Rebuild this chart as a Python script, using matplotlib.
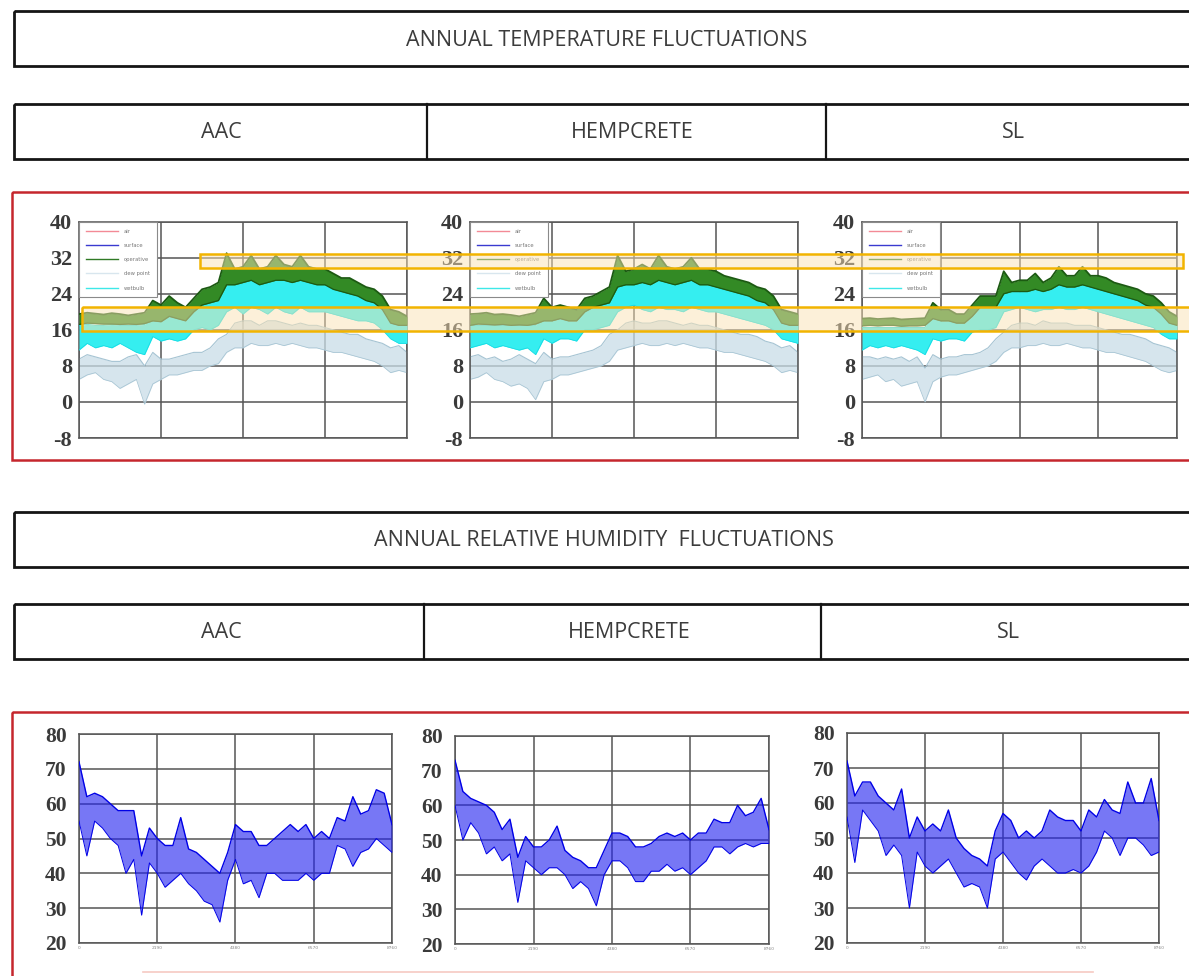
import numpy as np
import matplotlib
matplotlib.use('Agg')
import matplotlib.pyplot as plt
from matplotlib.patches import Rectangle
from matplotlib.lines import Line2D

# ---- data (41 samples over the year, hours 0..8760) ----
# temperature, deg C : operative (green), wetbulb (cyan), dew point (pale blue)
AAC_OP_HI = [19.5, 19.8, 19.6, 19.4, 19.7, 19.5, 19.2, 19.5, 19.8, 22.5, 21.5, 23.5, 22.0, 21.0, 23.0, 25.0, 25.5, 26.5, 33.0, 29.5, 30.0,
             32.5, 29.5, 30.0, 32.5, 30.5, 30.0, 32.5, 30.0, 29.5, 29.5, 28.5, 27.5, 27.5, 26.5, 25.5, 25.0, 23.5, 20.5, 20.0, 19.0]
AAC_OP_LO = [17.2, 17.5, 17.4, 17.3, 17.3, 17.2, 17.3, 17.2, 17.4, 18.0, 17.8, 19.0, 18.5, 18.0, 20.0, 21.5, 22.0, 22.5, 26.0, 26.0, 26.5,
             27.0, 26.0, 26.5, 27.0, 27.0, 26.5, 27.0, 26.5, 26.0, 26.0, 25.0, 24.5, 24.0, 23.5, 22.5, 22.0, 20.5, 17.5, 17.0, 17.0]
AAC_WB_HI = [17.0, 17.2, 17.0, 17.0, 17.2, 17.0, 17.0, 17.0, 17.2, 22.0, 18.5, 19.0, 18.5, 18.0, 21.0, 22.0, 23.0, 25.0, 32.0, 27.0, 27.0,
             31.0, 27.0, 27.0, 31.0, 27.5, 27.0, 30.0, 27.0, 26.5, 26.0, 25.0, 24.5, 24.0, 23.5, 22.5, 22.0, 21.0, 18.0, 17.5, 17.0]
AAC_WB_LO = [11.5, 13.0, 12.0, 12.5, 12.0, 13.0, 12.0, 11.0, 10.5, 14.5, 13.5, 14.0, 13.5, 14.0, 16.0, 16.5, 16.0, 17.0, 20.0, 21.0, 19.5,
             21.0, 20.5, 19.5, 21.0, 20.0, 19.5, 21.0, 20.0, 20.0, 20.0, 19.5, 19.0, 18.5, 18.0, 18.0, 17.5, 16.0, 14.0, 13.0, 13.0]
AAC_DEW_HI = [9.5, 10.5, 10.0, 9.5, 9.0, 9.0, 10.0, 10.5, 8.0, 11.0, 9.5, 9.5, 10.0, 10.5, 11.0, 11.0, 12.0, 14.0, 15.0, 17.5, 18.0,
              18.0, 17.0, 18.0, 18.0, 17.5, 17.0, 17.5, 17.0, 17.0, 16.5, 16.0, 15.5, 15.0, 15.0, 14.0, 13.5, 13.0, 12.0, 12.5, 11.0]
AAC_DEW_LO = [5.0, 6.0, 6.5, 5.0, 4.5, 3.0, 4.0, 5.0, -0.5, 4.0, 5.0, 6.0, 6.0, 6.5, 7.0, 7.0, 8.0, 8.5, 11.0, 12.0, 12.0,
              13.0, 12.5, 12.5, 13.0, 12.5, 13.0, 12.5, 12.0, 12.0, 11.5, 11.0, 11.0, 10.5, 10.0, 9.5, 9.0, 8.0, 6.5, 7.0, 6.5]

HEMP_OP_HI = [19.5, 19.6, 19.8, 19.4, 19.5, 19.3, 19.0, 19.4, 19.8, 23.0, 21.0, 21.5, 21.0, 20.5, 23.0, 23.5, 24.5, 25.5, 32.5, 29.0, 29.5,
              30.5, 29.5, 32.5, 30.0, 29.5, 30.0, 32.0, 29.5, 29.5, 29.0, 28.0, 27.5, 27.0, 26.5, 25.5, 25.0, 23.5, 20.5, 20.0, 19.5]
HEMP_OP_LO = [17.0, 17.3, 17.2, 17.1, 17.2, 17.0, 17.1, 17.0, 17.3, 18.0, 18.0, 18.5, 18.0, 18.0, 20.0, 21.0, 21.5, 22.0, 25.5, 26.0, 26.0,
              26.5, 26.0, 27.0, 26.5, 26.0, 26.5, 27.0, 26.0, 26.0, 25.5, 25.0, 24.5, 24.0, 23.5, 22.5, 22.0, 20.5, 17.5, 17.0, 17.0]
HEMP_WB_HI = [17.0, 17.0, 17.0, 17.0, 17.0, 17.0, 17.0, 17.0, 17.0, 22.0, 18.0, 18.5, 18.0, 18.0, 21.0, 22.0, 22.5, 24.0, 31.5, 27.0, 27.0,
              28.0, 27.0, 31.0, 27.5, 27.0, 27.0, 30.0, 27.0, 26.5, 26.0, 25.0, 24.5, 24.0, 23.5, 22.5, 22.0, 21.0, 18.0, 17.5, 17.0]
HEMP_WB_LO = [12.0, 12.5, 13.0, 12.0, 12.5, 12.0, 11.5, 12.0, 10.5, 14.0, 13.0, 14.0, 14.0, 13.5, 16.0, 16.0, 16.5, 17.0, 20.0, 21.0, 21.5,
              20.5, 20.0, 21.0, 20.5, 20.5, 20.0, 21.0, 20.5, 20.0, 20.0, 19.5, 19.0, 18.5, 18.0, 17.5, 17.0, 16.0, 14.0, 13.5, 13.0]
HEMP_DEW_HI = [10.0, 10.5, 9.5, 10.0, 9.0, 9.5, 10.5, 9.5, 8.5, 11.0, 9.5, 10.0, 10.0, 10.5, 11.0, 11.5, 12.5, 15.0, 16.0, 17.5, 18.0,
               17.5, 17.5, 18.0, 18.0, 17.5, 17.0, 17.5, 17.0, 17.0, 16.5, 16.0, 15.5, 15.0, 15.0, 14.5, 13.5, 13.0, 12.0, 12.5, 11.0]
HEMP_DEW_LO = [5.0, 5.5, 6.5, 5.0, 4.5, 3.5, 4.0, 3.0, 0.5, 4.5, 5.0, 6.0, 6.0, 6.5, 7.0, 7.5, 8.0, 9.0, 11.5, 12.0, 12.5,
               13.0, 12.5, 12.5, 13.0, 12.5, 13.0, 12.5, 12.0, 12.0, 11.5, 11.0, 11.0, 10.5, 10.0, 9.5, 9.0, 8.0, 6.5, 7.0, 6.5]

SL_OP_HI = [18.5, 18.6, 18.4, 18.5, 18.6, 18.3, 18.4, 18.5, 18.6, 22.0, 20.5, 20.5, 19.5, 19.5, 21.5, 23.5, 23.5, 23.5, 29.0, 26.5, 27.0,
            27.0, 28.5, 26.5, 27.5, 30.0, 28.0, 28.0, 30.0, 28.0, 28.0, 27.5, 26.5, 26.0, 25.5, 25.0, 24.0, 23.5, 22.0, 20.0, 19.0]
SL_OP_LO = [16.9, 17.0, 16.9, 17.0, 17.0, 16.8, 16.9, 16.9, 17.0, 18.5, 18.0, 18.0, 17.5, 17.5, 19.0, 21.0, 21.0, 21.0, 24.0, 24.5, 24.5,
            24.5, 25.0, 24.5, 25.0, 26.0, 25.5, 25.5, 26.0, 25.5, 25.0, 24.5, 24.0, 23.5, 23.0, 22.5, 21.5, 21.0, 19.5, 17.5, 17.0]
SL_WB_HI = [16.5, 16.5, 16.5, 16.5, 16.5, 16.5, 16.5, 16.5, 16.5, 21.0, 18.0, 18.0, 17.5, 17.5, 19.0, 21.0, 21.0, 21.0, 28.0, 24.5, 24.5,
            24.5, 27.0, 24.5, 25.0, 28.5, 25.5, 25.5, 28.5, 25.5, 25.0, 24.5, 24.0, 23.5, 23.0, 22.5, 21.5, 21.0, 19.5, 17.5, 17.0]
SL_WB_LO = [11.5, 12.5, 12.0, 12.5, 12.0, 12.5, 12.0, 11.5, 10.5, 14.0, 13.5, 14.0, 14.0, 13.5, 15.5, 16.0, 16.0, 16.5, 20.0, 20.5, 21.0,
            20.5, 20.0, 20.5, 20.5, 21.0, 20.5, 20.5, 21.0, 20.5, 20.0, 19.5, 19.0, 18.5, 18.0, 17.5, 17.0, 16.5, 15.0, 14.0, 14.0]
SL_DEW_HI = [10.0, 10.0, 9.5, 10.0, 9.5, 10.0, 9.0, 10.0, 7.5, 10.5, 9.5, 10.0, 10.0, 10.5, 10.5, 11.0, 12.0, 14.0, 15.5, 17.0, 17.5,
             17.5, 17.0, 18.0, 17.5, 17.5, 17.5, 17.0, 17.0, 17.0, 16.5, 16.0, 15.5, 15.0, 15.0, 14.5, 14.0, 13.0, 12.5, 12.0, 11.0]
SL_DEW_LO = [5.0, 5.5, 6.0, 4.5, 5.0, 3.5, 4.0, 4.5, 0.0, 4.5, 5.5, 6.0, 6.0, 6.5, 7.0, 7.5, 8.0, 9.0, 11.0, 12.0, 12.0,
             12.5, 12.5, 13.0, 12.5, 12.5, 13.0, 12.5, 12.0, 12.0, 11.5, 11.0, 11.0, 10.5, 10.0, 9.5, 9.0, 8.0, 7.0, 6.5, 7.0]

# relative humidity, %
AAC_RH_HI = [72, 62, 63, 62, 60, 58, 58, 58, 45, 53, 50, 48, 48, 56, 47, 46, 44, 42, 40, 46, 54,
             52, 52, 48, 48, 50, 52, 54, 52, 54, 50, 52, 50, 56, 55, 62, 57, 58, 64, 63, 54]
AAC_RH_LO = [55, 45, 55, 53, 50, 48, 40, 44, 28, 43, 40, 36, 38, 40, 37, 35, 32, 31, 26, 38, 44,
             37, 38, 33, 40, 40, 38, 38, 38, 40, 38, 40, 40, 48, 47, 42, 46, 47, 50, 48, 46]
HEMP_RH_HI = [73, 64, 62, 61, 60, 58, 53, 56, 45, 51, 48, 48, 50, 54, 47, 45, 44, 42, 42, 47, 52,
              52, 51, 48, 48, 49, 51, 52, 51, 52, 50, 52, 52, 56, 55, 55, 60, 57, 58, 62, 53]
HEMP_RH_LO = [60, 50, 55, 52, 46, 48, 44, 46, 32, 44, 42, 40, 42, 42, 40, 36, 38, 36, 31, 40, 44,
              44, 42, 38, 38, 41, 41, 43, 41, 42, 40, 42, 44, 48, 48, 46, 48, 49, 48, 49, 49]
SL_RH_HI = [72, 62, 66, 66, 62, 60, 58, 64, 50, 56, 52, 54, 52, 58, 50, 47, 45, 44, 42, 52, 57,
            55, 50, 52, 50, 52, 58, 56, 55, 55, 52, 58, 56, 61, 58, 57, 66, 60, 60, 67, 55]
SL_RH_LO = [56, 43, 58, 55, 52, 45, 48, 45, 30, 46, 42, 40, 42, 44, 40, 36, 37, 36, 30, 44, 46,
            43, 40, 38, 42, 44, 42, 40, 40, 41, 40, 42, 46, 52, 50, 45, 50, 50, 48, 45, 46]

MATERIALS = ['AAC', 'HEMPCRETE', 'SL']
LEGEND_LABELS = ['air', 'surface', 'operative', 'dew point', 'wetbulb']
X_TICKS = [0, 2190, 4380, 6570, 8760]
X_TICK_LABELS = ['0', '2190', '4380', '6570', '8760']
T_TICKS = [-8, 0, 8, 16, 24, 32, 40]
RH_TICKS = [20, 30, 40, 50, 60, 70, 80]

TEMP = [
    (AAC_OP_LO, AAC_OP_HI, AAC_WB_LO, AAC_WB_HI, AAC_DEW_LO, AAC_DEW_HI),
    (HEMP_OP_LO, HEMP_OP_HI, HEMP_WB_LO, HEMP_WB_HI, HEMP_DEW_LO, HEMP_DEW_HI),
    (SL_OP_LO, SL_OP_HI, SL_WB_LO, SL_WB_HI, SL_DEW_LO, SL_DEW_HI),
]
RH = [(AAC_RH_LO, AAC_RH_HI), (HEMP_RH_LO, HEMP_RH_HI), (SL_RH_LO, SL_RH_HI)]

W, H = 1189, 976
fig = plt.figure(figsize=(W / 100, H / 100), dpi=100)
fig.patch.set_facecolor('white')

HEAD_FONT = ['Open Sans', 'DejaVu Sans']
TICK_FONT = ['Liberation Serif', 'DejaVu Serif']


def px_axes(left, top, right, bottom):
    return fig.add_axes([left / W, 1 - bottom / H, (right - left) / W, (bottom - top) / H])


def band(ax, lo, hi, fill, edge, alpha, lw, z):
    # envelope of the hourly trace: filled range plus its ragged edges
    x = np.linspace(0, 8760, len(lo))
    ax.fill_between(x, lo, hi, color=fill, alpha=alpha, lw=0, zorder=z)
    ax.plot(x, hi, color=edge, lw=lw, zorder=z + 0.1)
    ax.plot(x, lo, color=edge, lw=lw * 0.7, zorder=z + 0.1)


def style(ax, ylim, yticks, fs, pad):
    ax.set_xlim(0, 8760)
    ax.set_ylim(*ylim)
    ax.set_xticks(X_TICKS)
    ax.set_yticks(yticks)
    ax.set_yticklabels([str(t) for t in yticks], fontfamily=TICK_FONT, fontsize=fs,
                       fontweight='bold', color='#3a3a3a')
    ax.grid(True, color='#555555', lw=1.1)
    ax.set_axisbelow(True)
    for s in ax.spines.values():
        s.set_color('#555555')
        s.set_linewidth(1.1)
    ax.tick_params(length=0)
    ax.tick_params(axis='y', pad=pad)


# ---- temperature plots ----
temp_pos = [(79, 407), (470, 798), (862, 1177)]
for (l, r), (op_lo, op_hi, wb_lo, wb_hi, dw_lo, dw_hi) in zip(temp_pos, TEMP):
    ax = px_axes(l, 221.7, r, 438)
    band(ax, dw_lo, dw_hi, '#c9dde7', '#a6c4d3', 0.75, 0.8, 2)
    band(ax, wb_lo, wb_hi, '#35eef0', '#14dbe3', 1.0, 0.8, 3)
    band(ax, op_lo, op_hi, '#338a25', '#1c5a12', 1.0, 1.3, 4)
    style(ax, (-8, 40), T_TICKS, 16, 5)
    ax.set_xticklabels([])
    handles = [Line2D([], [], color=c, lw=1) for c in
               ['#f38a96', '#3a3ad0', '#2f7a25', '#d8e6ee', '#3ee8e8']]
    leg = ax.legend(handles, LEGEND_LABELS, loc='upper left', borderaxespad=0,
                    fontsize=3.8, handlelength=6.0, handletextpad=1.2, labelspacing=1.75,
                    borderpad=1.3, fancybox=False, framealpha=1, edgecolor='#8a8a8a')
    leg.get_frame().set_linewidth(0.8)
    for t in leg.get_texts():
        t.set_color('#777777')

# ---- relative humidity plots ----
rh_pos = [(79, 734, 392, 943), (455, 736, 769, 944), (847, 733, 1159, 943)]
for (l, t, r, b), (lo, hi) in zip(rh_pos, RH):
    ax = px_axes(l, t, r, b)
    band(ax, lo, hi, '#2424f0', '#0000e6', 0.62, 1.0, 3)
    style(ax, (20, 80), RH_TICKS, 15.5, 9)
    ax.set_xticklabels(X_TICK_LABELS, fontsize=3.2, color='#888888')
    ax.tick_params(axis='x', pad=2)

# ---- frames, headers and highlight bands ----
ov = fig.add_axes([0, 0, 1, 1], zorder=10)
ov.set_xlim(0, W)
ov.set_ylim(H, 0)
ov.axis('off')
ov.patch.set_alpha(0)

box = dict(fill=False, ec='#151515', lw=2.0)
ov.add_patch(Rectangle((14, 11), 1220, 55, **box))
ov.add_patch(Rectangle((14, 104), 1220, 55, **box))
ov.add_patch(Rectangle((14, 512), 1220, 55, **box))
ov.add_patch(Rectangle((14, 604), 1220, 55, **box))
for xd, (y0, y1) in [(427, (104, 159)), (826, (104, 159)), (424, (604, 659)), (821, (604, 659))]:
    ov.plot([xd, xd], [y0, y1], color='#151515', lw=1.6)

ov.add_patch(Rectangle((11.7, 192), 1220, 268, fill=False, ec='#c5262d', lw=1.8))
ov.add_patch(Rectangle((11.7, 712), 1220, 300, fill=False, ec='#c5262d', lw=1.8))
ov.plot([143, 1093], [972, 972], color='#f6c9c2', lw=1.2)

txt = dict(ha='center', va='center', fontfamily=HEAD_FONT, fontsize=15.5, color='#3c3c3c')
ov.text(607, 40, 'ANNUAL TEMPERATURE FLUCTUATIONS', **txt)
ov.text(604, 541, 'ANNUAL RELATIVE HUMIDITY  FLUCTUATIONS', **txt)
for xc, name in zip([221, 632, 1013], MATERIALS):
    ov.text(xc, 132, name, **txt)
for xc, name in zip([221, 629, 1008], MATERIALS):
    ov.text(xc, 632, name, **txt)

# comfort highlight bands
for x0, y0, w, h in [(200, 254, 983, 14), (82, 307, 1200, 24)]:
    ov.add_patch(Rectangle((x0, y0), w, h, fc='#fbe3b5', ec='none', alpha=0.5))
    ov.add_patch(Rectangle((x0, y0), w, h, fill=False, ec='#f2b400', lw=1.8))

fig.savefig('out.png', dpi=100)
